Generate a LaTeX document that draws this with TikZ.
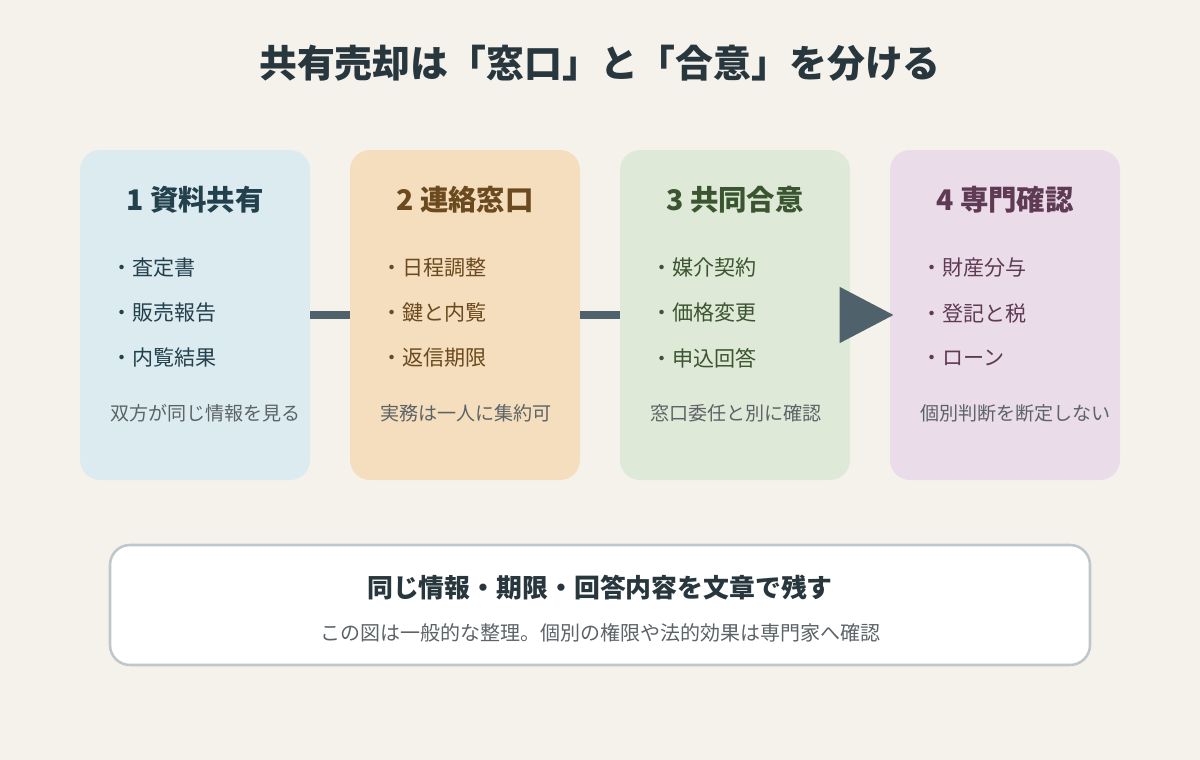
\documentclass[tikz,border=0pt]{standalone}
\usepackage{fontspec}
\setmainfont{Noto Sans CJK JP}
\usetikzlibrary{arrows.meta}
\definecolor{bg}{HTML}{F5F2EC}
\definecolor{cardA}{HTML}{DCEBF0}
\definecolor{cardB}{HTML}{F5DEBD}
\definecolor{cardC}{HTML}{DFE9D7}
\definecolor{cardD}{HTML}{EADCE8}
\definecolor{inkA}{HTML}{23404D}
\definecolor{inkB}{HTML}{6A4A1E}
\definecolor{inkC}{HTML}{3A5530}
\definecolor{inkD}{HTML}{5E3A55}
\definecolor{titleink}{HTML}{28363E}
\definecolor{grayink}{HTML}{5C6367}
\definecolor{barc}{HTML}{4F626B}
\definecolor{boxline}{HTML}{C0C7CC}
\tikzset{
  x=0.75pt, y=-0.75pt,
  card/.style={rounded corners=15pt, minimum width=172.5pt, minimum height=247.5pt, inner sep=0pt},
  head/.style={font=\fontsize{21.3}{25}\selectfont\bfseries, inner sep=0pt},
  item/.style={font=\fontsize{15.8}{19}\selectfont, anchor=west, inner sep=0pt},
  note/.style={font=\fontsize{14.3}{17}\selectfont, text=grayink, anchor=west, inner sep=0pt},
  bar/.style={draw=barc, line width=6pt},
}
\begin{document}
\begin{tikzpicture}
\fill[bg] (0,0) rectangle (1200,760);
\useasboundingbox (0,0) rectangle (1200,760);

\node[font=\fontsize{28.4}{33}\selectfont\bfseries, text=titleink, inner sep=0pt] (title) at (600,63) {共有売却は「窓口」と「合意」を分ける};

% cards
\node[card, fill=cardA] (c1) at (195,315) {};
\node[card, fill=cardB] (c2) at (465,315) {};
\node[card, fill=cardC] (c3) at (735,315) {};
\node[card, fill=cardD] (c4) at (1005,315) {};

% connectors
\draw[bar] (c1.east) -- (c2.west);
\draw[bar] (c2.east) -- (c3.west);
\draw[draw=barc, line width=6pt, shorten >=-3pt, -{Triangle[length=40.5pt,width=40.5pt]}] (c3.east) -- (c4.west);

% card 1
\node[head, text=inkA] (h1) at (195,200) {1 資料共有};
\node[item, text=inkA] (a1) at (111,268) {・査定書};
\node[item, text=inkA] (a2) at (111,313) {・販売報告};
\node[item, text=inkA] (a3) at (111,358) {・内覧結果};
\node[note] (n1) at (110,413) {双方が同じ情報を見る};

% card 2
\node[head, text=inkB] (h2) at (465,200) {2 連絡窓口};
\node[item, text=inkB] (b1) at (381,268) {・日程調整};
\node[item, text=inkB] (b2) at (381,313) {・鍵と内覧};
\node[item, text=inkB] (b3) at (381,358) {・返信期限};
\node[note] (n2) at (380,413) {実務は一人に集約可};

% card 3
\node[head, text=inkC] (h3) at (735,200) {3 共同合意};
\node[item, text=inkC] (d1) at (651,268) {・媒介契約};
\node[item, text=inkC] (d2) at (651,313) {・価格変更};
\node[item, text=inkC] (d3) at (651,358) {・申込回答};
\node[note] (n3) at (650,413) {窓口委任と別に確認};

% card 4
\node[head, text=inkD] (h4) at (1005,200) {4 専門確認};
\node[item, text=inkD] (e1) at (921,268) {・財産分与};
\node[item, text=inkD] (e2) at (921,313) {・登記と税};
\node[item, text=inkD] (e3) at (921,358) {・ローン};
\node[note] (n4) at (920,413) {個別判断を断定しない};

% bottom box
\node[draw=boxline, line width=1.9pt, fill=white, rounded corners=15pt, minimum width=735pt, minimum height=90pt, inner sep=0pt] (box) at (600,605) {};
\node[font=\fontsize{19.4}{23}\selectfont\bfseries, text=titleink, inner sep=0pt] (bt) at (600,588) {同じ情報・期限・回答内容を文章で残す};
\node[font=\fontsize{15}{18}\selectfont, text=grayink, inner sep=0pt] (bs) at (600,633) {この図は一般的な整理。個別の権限や法的効果は専門家へ確認};
\end{tikzpicture}
\end{document}
